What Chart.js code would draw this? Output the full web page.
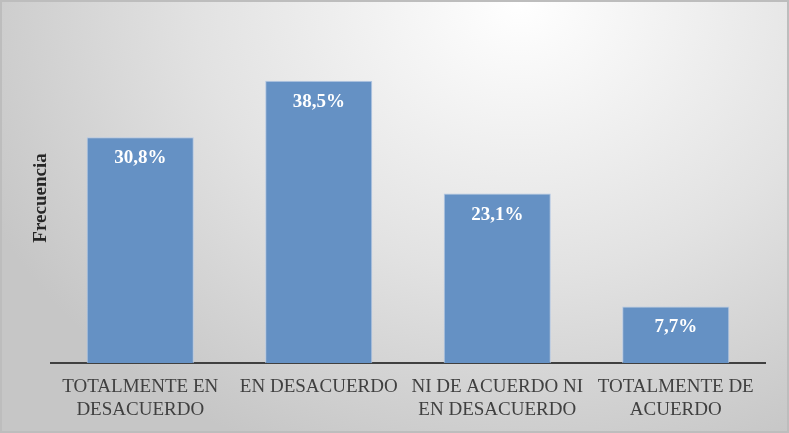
<!DOCTYPE html>
<html>
<head>
<meta charset="utf-8">
<script src="https://cdn.jsdelivr.net/npm/chart.js@4.4.0/dist/chart.umd.min.js"></script>
<style>
  html, body { margin: 0; padding: 0; }
  #wrap {
    width: 789px; height: 433px; box-sizing: border-box;
    border: 2px solid #bdbdbd;
    background: radial-gradient(ellipse 75% 115% at 66% 0%, #ffffff 0%, #e2e2e2 55%, #c6c6c6 100%);
  }
  #wrap canvas { display: block; }
</style>
</head>
<body>
<div id="wrap"><canvas id="grafico" width="785" height="429"></canvas></div>
<script>
// datos del grafico
var categorias = [
  ["TOTALMENTE EN", "DESACUERDO"],
  "EN DESACUERDO",
  ["NI DE ACUERDO NI", "EN DESACUERDO"],
  ["TOTALMENTE DE", "ACUERDO"]
];
var porcentajes = [30.8, 38.5, 23.1, 7.7];
var etiquetas = ["30,8%", "38,5%", "23,1%", "7,7%"];

/* etiquetas dentro de cada barra */
var etiquetasPlugin = {
  id: 'etiquetasBarra',
  afterDatasetsDraw: function(chart) {
    var ctx = chart.ctx;
    var meta = chart.getDatasetMeta(0);
    ctx.save();
    ctx.fillStyle = '#ffffff';
    ctx.font = 'bold 19px "Liberation Serif", "Times New Roman", serif';
    ctx.textAlign = 'center';
    ctx.textBaseline = 'middle';
    meta.data.forEach(function(bar, i) {
      ctx.fillText(etiquetas[i], bar.x, bar.y + 21);
    });
    ctx.restore();
  }
};

var ctxGrafico = document.getElementById("grafico");
Chart.defaults.font.family = '"Liberation Serif", "Times New Roman", serif';

var grafico = new Chart(ctxGrafico, {
  type: 'bar',
  data: {
    labels: categorias,
    datasets: [{
      label: 'Frecuencia',
      data: porcentajes,
      backgroundColor: '#6591c4',
      borderColor: '#b4c8e4',
      borderWidth: 1,
      barPercentage: 0.6,
      categoryPercentage: 1
    }]
  },
  options: {
    responsive: false,
    animation: false,
    devicePixelRatio: 1,
    layout: { padding: { top: 31, right: 22, left: 0, bottom: 0 } },
    plugins: {
      legend: { display: false },
      tooltip: { enabled: false }
    },
    scales: {
      x: {
        grid: { display: false, drawTicks: false },
        border: { display: true, color: '#404040', width: 2 },
        ticks: {
          color: '#404040',
          font: { size: 19 },
          padding: 13,
          maxRotation: 0,
          autoSkip: false
        },
        afterFit: function(scale) { scale.height = 68; }
      },
      y: {
        min: 0,
        max: 45,
        grid: { display: false, drawTicks: false },
        border: { display: false },
        ticks: { display: false },
        title: {
          display: true,
          text: 'Frecuencia',
          color: '#262626',
          font: { size: 19, weight: 'bold' },
          padding: { top: 28, bottom: 0 }
        },
        afterFit: function(scale) { scale.width = 49; }
      }
    }
  },
  plugins: [etiquetasPlugin]
});
</script>
</body>
</html>
